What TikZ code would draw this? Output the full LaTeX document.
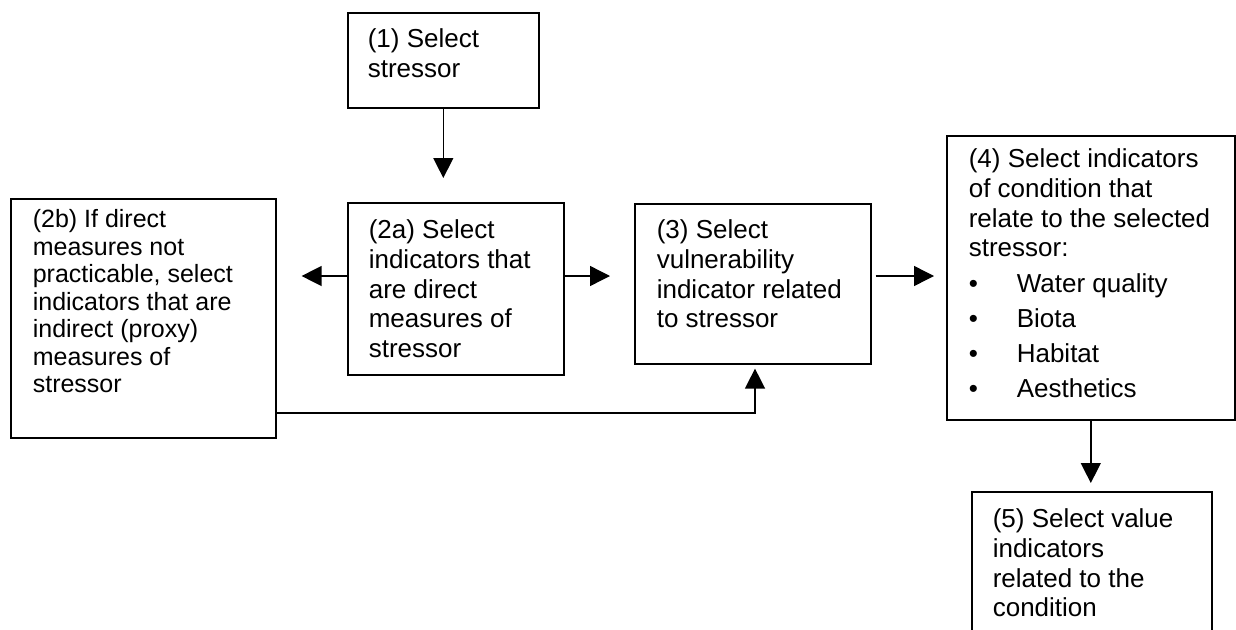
\documentclass[tikz,border=0pt]{standalone}
\usepackage{fontspec}
\setmainfont{Liberation Sans}
\usetikzlibrary{arrows.meta}
\tikzset{
  box/.style={draw=black, line width=1.6pt, inner sep=0pt, anchor=north west,
    font=\fontsize{26}{29.7}\selectfont},
  arr/.style={line width=1.4pt, -{Triangle[length=20pt,width=20pt]}},
}
\newcommand{\bx}[5]{\parbox[c][#2][t]{#1}{\raggedright\leftskip=#4\relax\vspace*{#3}\strut #5}}
\begin{document}
\begin{tikzpicture}[x=1pt,y=-1pt]
\useasboundingbox (0,0) rectangle (1236,629);
\node[box] (b1) at (347,12) {\bx{191pt}{95pt}{14.2pt}{20pt}{(1) Select\\stressor}};
\node[box] (b2a) at (347,202) {\bx{216pt}{172pt}{15.2pt}{21pt}{(2a) Select\\indicators that\\are direct\\measures of\\stressor}};
\node[box, font=\fontsize{25}{27.5}\selectfont] (b2b) at (10,198) {\bx{265pt}{239pt}{9.75pt}{22pt}{(2b) If direct\\measures not\\practicable, select\\indicators that are\\indirect (proxy)\\measures of\\stressor}};
\node[box] (b3) at (634,203) {\bx{236pt}{160pt}{14.2pt}{22pt}{(3) Select\\vulnerability\\indicator related\\to stressor}};
\node[box] (b4) at (946,135) {\bx{288pt}{284pt}{11.2pt}{22pt}{(4) Select indicators\\of condition that\\relate to the selected\\stressor:\\[6.3pt]
\makebox[48pt][l]{\textbullet}Water quality\\[5.3pt]
\makebox[48pt][l]{\textbullet}Biota\\[5.3pt]
\makebox[48pt][l]{\textbullet}Habitat\\[5.3pt]
\makebox[48pt][l]{\textbullet}Aesthetics}};
\node[box] (b5) at (971,491) {\bx{240pt}{150pt}{15.2pt}{21pt}{(5) Select value\\indicators\\related to the\\condition}};
\coordinate (y1) at (0,276);
\coordinate (y2) at (0,413);
\coordinate (x2) at (755,0);
\draw[arr, shorten >=24pt] (b1.south) -- (b1.south |- b2a.north);
\draw[arr, shorten >=25pt] (b2a.west |- y1) -- (b2b.east |- y1);
\draw[arr, shorten >=24pt] (b2a.east |- y1) -- (b3.west |- y1);
\draw[arr, shorten <=4pt, shorten >=12pt] (b3.east |- y1) -- (b4.west |- y1);
\draw[arr, shorten >=4pt] (b2b.east |- y2) -| (x2 |- b3.south);
\draw[arr, shorten >=8pt] (b4.south) -- (b4.south |- b5.north);
\end{tikzpicture}
\end{document}
